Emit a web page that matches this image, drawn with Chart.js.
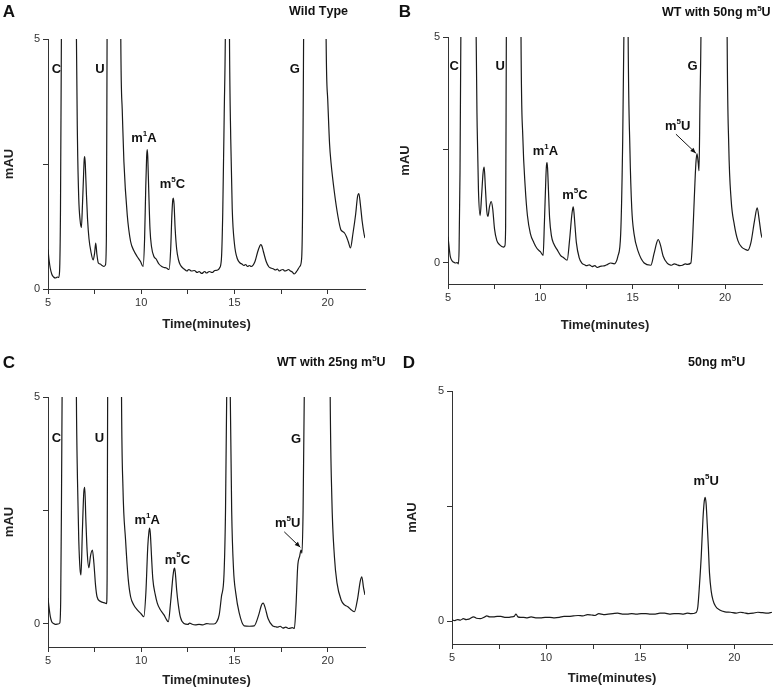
<!DOCTYPE html>
<html>
<head>
<meta charset="utf-8">
<script src="https://cdn.jsdelivr.net/npm/chart.js@4.4.0/dist/chart.umd.min.js"></script>
<style>
  html,body{margin:0;padding:0;background:#fff}
  #wrap{position:relative;width:777px;height:690px}
  #wrap canvas{position:absolute;left:0;top:0}
</style>
</head>
<body>
<div id="wrap">
  <canvas id="cA" width="777" height="690"></canvas>
  <canvas id="cB" width="777" height="690"></canvas>
  <canvas id="cC" width="777" height="690"></canvas>
  <canvas id="cD" width="777" height="690"></canvas>
</div>
<script>
/* HPLC traces (time in minutes, absorbance in mAU).
   Values above 5 are off-scale peaks that get clipped at the top. */
const X_TICKS=[5,7.5,10,12.5,15,17.5,20];
const Y_TICKS=[0,2.5,5];

// A: Wild Type
const timeA=[5.0,5.05,5.12,5.2,5.3,5.4,5.5,5.57,5.62,5.67,5.72,5.8,6.1,6.45,6.52,6.58,6.65,6.72,6.79,6.85,6.9,6.94,6.97,7.0,7.06,7.12,7.2,7.3,7.42,7.5,7.56,7.62,7.7,7.8,7.9,8.0,8.08,8.13,8.17,8.25,8.6,8.85,8.9,8.98,9.07,9.25,9.43,9.6,9.78,9.96,10.1,10.18,10.24,10.29,10.32,10.35,10.4,10.47,10.55,10.68,10.8,10.95,11.1,11.22,11.35,11.49,11.58,11.64,11.69,11.72,11.76,11.82,11.9,12.0,12.1,12.2,12.3,12.45,12.55,12.7,12.85,13.0,13.1,13.25,13.4,13.5,13.65,13.8,13.95,14.1,14.2,14.3,14.37,14.45,14.52,14.6,14.66,14.73,14.8,14.88,15.0,15.16,15.3,15.4,15.5,15.6,15.7,15.8,15.9,16.1,16.25,16.37,16.42,16.47,16.55,16.7,16.85,16.95,17.1,17.2,17.3,17.4,17.5,17.6,17.7,17.8,17.9,18.0,18.1,18.2,18.35,18.5,18.6,18.65,18.71,18.8,19.3,19.85,19.91,20.0,20.1,20.18,20.36,20.55,20.7,20.8,20.9,21.0,21.1,21.22,21.35,21.5,21.6,21.67,21.75,21.85,21.95,22.0];
const mauA=[0.79,0.6,0.42,0.3,0.24,0.22,0.24,0.23,0.35,1.6,5.2,12,30,12,5.2,3.0,1.8,1.38,1.23,1.7,2.2,2.58,2.65,2.5,1.9,1.4,1.0,0.75,0.58,0.72,0.92,0.7,0.52,0.5,0.47,0.45,0.48,1.0,5.2,12,30,12,5.2,3.6,2.55,1.48,0.95,0.77,0.65,0.55,0.45,1.0,2.0,2.65,2.79,2.65,2.0,1.2,0.85,0.65,0.6,0.5,0.45,0.43,0.42,0.39,0.8,1.45,1.78,1.82,1.7,1.2,0.8,0.58,0.48,0.43,0.4,0.36,0.39,0.36,0.37,0.33,0.35,0.31,0.35,0.32,0.35,0.33,0.37,0.38,0.42,0.6,1.5,3.5,5.5,12,12,5.2,3.0,1.6,0.9,0.6,0.52,0.5,0.47,0.49,0.45,0.47,0.45,0.55,0.75,0.87,0.89,0.86,0.75,0.55,0.44,0.42,0.4,0.38,0.4,0.36,0.38,0.39,0.36,0.37,0.39,0.36,0.34,0.3,0.36,0.45,0.6,1.5,5.2,12,30,12,5.2,3.8,2.9,2.52,1.93,1.45,1.19,1.15,1.12,1.05,0.95,0.82,1.1,1.5,1.85,1.91,1.7,1.35,1.1,1.02];

// B: WT with 50ng m5U
const timeB=[5.0,5.06,5.12,5.2,5.29,5.4,5.5,5.56,5.6,5.65,5.7,5.78,6.1,6.45,6.52,6.58,6.65,6.74,6.82,6.9,6.96,7.02,7.1,7.16,7.25,7.34,7.42,7.52,7.64,7.8,8.0,8.08,8.12,8.16,8.25,8.6,8.9,8.95,9.05,9.18,9.3,9.46,9.65,9.82,10.0,10.15,10.22,10.3,10.33,10.36,10.39,10.44,10.5,10.6,10.72,10.9,11.09,11.25,11.45,11.58,11.7,11.75,11.78,11.82,11.88,11.95,12.1,12.26,12.4,12.5,12.65,12.8,12.95,13.08,13.2,13.3,13.5,13.65,13.8,14.0,14.2,14.35,14.45,14.53,14.62,14.68,14.75,14.85,14.95,15.07,15.3,15.62,15.98,16.15,16.3,16.38,16.5,16.65,16.88,17.0,17.1,17.25,17.4,17.55,17.7,17.85,17.95,18.15,18.25,18.33,18.42,18.48,18.55,18.59,18.64,18.7,18.78,19.4,20.05,20.11,20.2,20.33,20.5,20.69,20.9,21.1,21.23,21.4,21.6,21.74,21.85,21.95,22.0];
const mauB=[0.58,0.35,0.15,0.06,0.02,0.0,0.01,-0.02,0.3,2.0,5.3,12,30,12,5.2,3.0,1.6,1.05,1.5,2.0,2.12,1.7,1.15,1.03,1.25,1.36,1.2,0.75,0.5,0.4,0.35,0.38,0.8,5.2,12,30,12,5.2,2.8,1.68,1.05,0.65,0.45,0.32,0.25,0.17,0.9,1.9,2.15,2.22,2.1,1.6,1.0,0.6,0.43,0.3,0.17,0.12,0.06,0.5,1.05,1.2,1.24,1.12,0.8,0.45,0.12,-0.01,-0.04,-0.06,-0.04,-0.08,-0.06,-0.1,-0.08,-0.07,-0.06,-0.03,0.0,-0.02,0.15,0.65,2.5,5.3,12,12,5.2,2.5,1.2,0.65,0.25,0.0,-0.05,0.2,0.45,0.52,0.4,0.15,-0.01,-0.04,-0.05,-0.02,-0.04,-0.06,-0.05,-0.02,-0.03,0.0,0.6,1.39,2.2,2.42,2.2,2.04,3.5,5.3,12,30,12,5.2,2.6,1.39,0.85,0.5,0.35,0.3,0.28,0.45,0.95,1.22,0.95,0.65,0.56];

// C: WT with 25ng m5U
const timeC=[5.0,5.06,5.13,5.2,5.3,5.4,5.55,5.63,5.68,5.72,5.76,5.84,6.15,6.45,6.52,6.58,6.65,6.72,6.77,6.84,6.92,6.97,7.03,7.1,7.19,7.28,7.38,7.46,7.55,7.63,7.8,8.0,8.14,8.17,8.2,8.28,8.6,8.88,8.94,9.02,9.16,9.3,9.43,9.6,9.79,10.0,10.14,10.25,10.35,10.41,10.45,10.49,10.55,10.62,10.75,10.86,11.0,11.22,11.35,11.45,11.58,11.7,11.75,11.79,11.83,11.9,11.98,12.1,12.29,12.5,12.6,12.7,12.9,13.1,13.3,13.5,13.7,13.9,14.05,14.18,14.3,14.44,14.52,14.59,14.68,14.77,14.85,14.95,15.07,15.25,15.52,15.8,16.06,16.3,16.45,16.54,16.65,16.8,17.04,17.2,17.3,17.45,17.6,17.75,17.9,18.1,18.21,18.3,18.39,18.5,18.57,18.62,18.68,18.75,18.83,19.4,20.05,20.13,20.22,20.36,20.5,20.72,20.9,21.08,21.3,21.43,21.6,21.75,21.83,21.92,22.0];
const mauC=[0.57,0.35,0.15,0.05,0.01,-0.01,0.0,0.02,0.5,2.5,5.3,12,30,12,5.2,3.2,1.85,1.2,1.08,2.0,2.9,3.01,2.3,1.6,1.24,1.5,1.63,1.35,0.85,0.6,0.5,0.47,0.45,1.0,5.2,12,30,12,5.2,3.0,1.85,1.0,0.6,0.42,0.31,0.22,0.16,0.7,1.7,2.02,2.11,1.98,1.5,1.0,0.65,0.46,0.33,0.2,0.1,0.05,0.5,1.05,1.2,1.23,1.12,0.75,0.45,0.15,0.01,-0.01,0.02,0.0,-0.02,-0.01,-0.02,0.01,0.0,0.0,0.05,0.2,0.6,1.1,2.5,5.3,12,5.2,2.5,1.2,0.68,0.25,-0.04,-0.05,-0.04,0.2,0.42,0.46,0.35,0.12,-0.04,-0.06,-0.07,-0.05,-0.09,-0.07,-0.1,-0.08,-0.1,0.4,1.26,1.5,1.63,1.56,2.5,5.3,12,30,12,5.2,2.8,1.48,0.9,0.53,0.42,0.38,0.3,0.27,0.55,0.95,1.04,0.8,0.64];

// D: 50ng m5U standard
const timeD=[5.0,5.15,5.3,5.45,5.6,5.75,5.9,6.15,6.3,6.5,6.7,6.85,7.0,7.2,7.4,7.6,7.8,8.0,8.15,8.3,8.4,8.5,8.65,8.8,9.0,9.2,9.45,9.7,9.95,10.2,10.45,10.7,10.95,11.2,11.45,11.7,11.95,12.2,12.4,12.6,12.8,13.05,13.3,13.55,13.8,14.05,14.3,14.55,14.8,15.05,15.3,15.55,15.8,16.05,16.3,16.55,16.8,17.05,17.3,17.5,17.7,17.95,18.06,18.15,18.24,18.33,18.4,18.45,18.5,18.56,18.62,18.68,18.77,18.86,19.0,19.22,19.5,19.8,20.1,20.3,20.5,20.75,21.0,21.25,21.5,21.75,22.0];
const mauD=[0.02,0.01,0.03,0.02,0.05,0.03,0.04,0.09,0.06,0.05,0.08,0.11,0.09,0.09,0.1,0.1,0.08,0.08,0.09,0.1,0.15,0.09,0.08,0.08,0.07,0.09,0.07,0.07,0.08,0.08,0.07,0.08,0.1,0.1,0.11,0.12,0.11,0.14,0.13,0.12,0.16,0.14,0.15,0.16,0.17,0.15,0.15,0.16,0.15,0.16,0.16,0.15,0.15,0.17,0.17,0.15,0.16,0.16,0.15,0.17,0.16,0.18,0.31,0.8,1.4,2.2,2.6,2.69,2.55,2.1,1.6,1.04,0.65,0.46,0.32,0.24,0.2,0.19,0.17,0.19,0.18,0.16,0.17,0.19,0.18,0.17,0.19];

// peak labels ("^" = next character is superscript)
const labelsA=[{s:'C',t:5.45,y:4.39},{s:'U',t:7.78,y:4.39},{s:'m^1A',t:10.14,y:3.02},{s:'m^5C',t:11.67,y:2.09},{s:'G',t:18.24,y:4.39}];
const labelsB=[{s:'C',t:5.34,y:4.35},{s:'U',t:7.83,y:4.35},{s:'m^1A',t:10.27,y:2.46},{s:'m^5C',t:11.87,y:1.5},{s:'G',t:18.24,y:4.35},{s:'m^5U',t:17.43,y:3.02}];
const labelsC=[{s:'C',t:5.45,y:4.09},{s:'U',t:7.76,y:4.09},{s:'m^1A',t:10.32,y:2.29},{s:'m^5C',t:11.94,y:1.41},{s:'G',t:18.3,y:4.07},{s:'m^5U',t:17.85,y:2.22}];
const labelsD=[{s:'m^5U',t:18.5,y:3.03}];

const FONT='"Liberation Sans", Arial, sans-serif';

function drawRich(ctx,str,x,y,size,align){
  const parts=[];
  for(let i=0;i<str.length;i++){
    if(str[i]==='^'){ parts.push({c:str[i+1],sup:true}); i++; }
    else parts.push({c:str[i],sup:false});
  }
  let w=0;
  parts.forEach(p=>{
    ctx.font=`bold ${p.sup?Math.round(size*0.62):size}px ${FONT}`;
    p.w=ctx.measureText(p.c).width; w+=p.w;
  });
  let cx=align==='center'?x-w/2:x;
  ctx.textAlign='left'; ctx.textBaseline='middle';
  parts.forEach(p=>{
    ctx.font=`bold ${p.sup?Math.round(size*0.62):size}px ${FONT}`;
    ctx.fillText(p.c,cx,p.sup?y-size*0.36:y);
    cx+=p.w;
  });
}

const panelText={
  id:'panelText',
  afterDatasetsDraw(chart,args,o){
    const ctx=chart.ctx, xs=chart.scales.x, ys=chart.scales.y;
    ctx.save();
    ctx.fillStyle='#111';
    ctx.font=`bold 17px ${FONT}`; ctx.textAlign='center'; ctx.textBaseline='middle';
    ctx.fillText(o.letter,o.letterAt[0],o.letterAt[1]);
    drawRich(ctx,o.heading,o.headAt[0],o.headAt[1],12.5,'left');
    o.peaks.forEach(p=>drawRich(ctx,p.s,xs.getPixelForValue(p.t),ys.getPixelForValue(p.y),13,'center'));
    if(o.arrow){
      const a=o.arrow;
      const x1=xs.getPixelForValue(a[0]),y1=ys.getPixelForValue(a[1]);
      const x2=xs.getPixelForValue(a[2]),y2=ys.getPixelForValue(a[3]);
      const ang=Math.atan2(y2-y1,x2-x1);
      ctx.strokeStyle='#111'; ctx.lineWidth=1;
      ctx.beginPath(); ctx.moveTo(x1,y1); ctx.lineTo(x2,y2); ctx.stroke();
      ctx.beginPath();
      ctx.moveTo(x2,y2);
      ctx.lineTo(x2-6*Math.cos(ang-0.4),y2-6*Math.sin(ang-0.4));
      ctx.lineTo(x2-6*Math.cos(ang+0.4),y2-6*Math.sin(ang+0.4));
      ctx.closePath(); ctx.fill();
    }
    ctx.restore();
  }
};

function makePanel(id,time,mau,P,txt){
  const pts=time.map((t,i)=>({x:t,y:mau[i]}));
  return new Chart(document.getElementById(id),{
    type:'line',
    data:{datasets:[{data:pts,borderColor:'#1a1a1a',borderWidth:1.2,pointRadius:0,
      cubicInterpolationMode:'monotone',fill:false}]},
    options:{
      responsive:false,animation:false,devicePixelRatio:1,
      layout:{padding:{left:P.l-P.yw,top:P.t,right:777-P.r,bottom:690-P.b-P.xh}},
      plugins:{legend:{display:false},tooltip:{enabled:false},panelText:txt},
      scales:{
        x:{type:'linear',min:5,max:22,
          afterBuildTicks:s=>{ s.ticks=X_TICKS.map(v=>({value:v})); },
          afterFit:s=>{ s.height=P.xh; },
          grid:{drawOnChartArea:false,drawTicks:true,tickLength:5,tickColor:'#333'},
          border:{color:'#333',width:1},
          ticks:{autoSkip:false,maxRotation:0,padding:2,color:'#333',
            font:{size:11,family:FONT},callback:v=>v%5===0?String(v):''},
          title:{display:true,text:'Time(minutes)',color:'#222',
            font:{size:13,weight:'bold',family:FONT},padding:{top:0,bottom:P.xpad}}},
        y:{type:'linear',min:P.ymin,max:5,
          afterBuildTicks:s=>{ s.ticks=Y_TICKS.map(v=>({value:v})); },
          afterFit:s=>{ s.width=P.yw; },
          grid:{drawOnChartArea:false,drawTicks:true,tickLength:5,tickColor:'#333'},
          border:{color:'#333',width:1},
          ticks:{autoSkip:false,padding:3,color:'#333',
            font:{size:11,family:FONT},callback:v=>v===2.5?'':String(v)},
          title:{display:true,text:'mAU',color:'#222',
            font:{size:13,weight:'bold',family:FONT},padding:{top:0,bottom:0}}}
      }
    },
    plugins:[panelText]
  });
}

makePanel('cA',timeA,mauA,{l:48,t:39,r:365,b:289,ymin:0,yw:46,xh:45,xpad:2},
  {letter:'A',letterAt:[9,12],heading:'Wild Type',headAt:[289,12],peaks:labelsA});
makePanel('cB',timeB,mauB,{l:448,t:37,r:762,b:284,ymin:-0.465,yw:50,xh:50,xpad:1},
  {letter:'B',letterAt:[405,12],heading:'WT with 50ng m^5U',headAt:[662,13],peaks:labelsB,
   arrow:[17.34,2.85,18.42,2.43]});
makePanel('cC',timeC,mauC,{l:48,t:397,r:365,b:647,ymin:-0.507,yw:46,xh:43,xpad:1.5},
  {letter:'C',letterAt:[9,363],heading:'WT with 25ng m^5U',headAt:[277,363],peaks:labelsC,
   arrow:[17.67,2.03,18.53,1.69]});
makePanel('cD',timeD,mauD,{l:452,t:391,r:772,b:644,ymin:-0.5,yw:47,xh:44,xpad:2},
  {letter:'D',letterAt:[409,363],heading:'50ng m^5U',headAt:[688,363],peaks:labelsD});
</script>
</body>
</html>
